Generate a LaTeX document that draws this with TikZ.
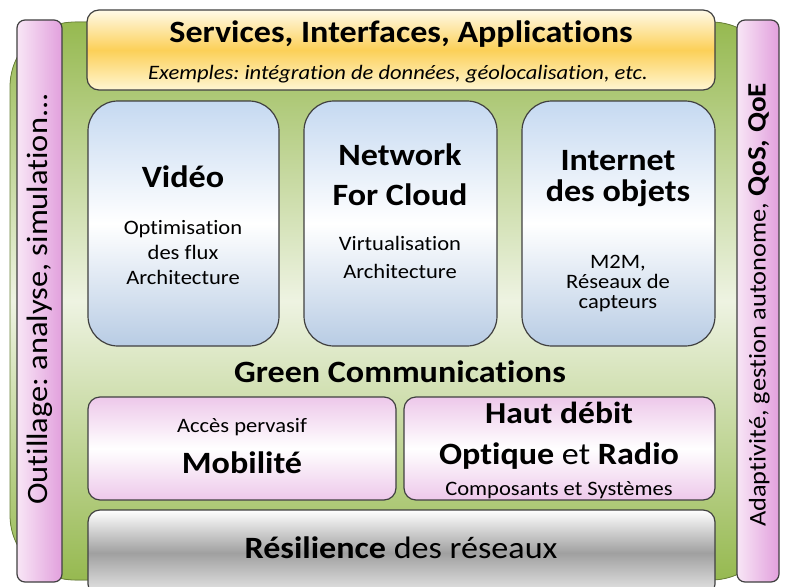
\documentclass[tikz,border=0pt]{standalone}
\usepackage{fontspec}
\setmainfont{Carlito}[FakeStretch=1.1, Ligatures=NoCommon]
\frenchspacing
\definecolor{edge}{RGB}{64,64,64}
\definecolor{greenA}{RGB}{150,185,80}
\definecolor{greenM}{RGB}{238,243,226}
\definecolor{blueA}{RGB}{197,217,241}
\definecolor{blueB}{RGB}{184,204,228}
\definecolor{goldA}{RGB}{255,250,232}
\definecolor{goldM}{RGB}{252,208,88}
\definecolor{goldB}{RGB}{255,246,210}
\definecolor{pinkA}{RGB}{237,200,234}
\definecolor{pinkB}{RGB}{226,160,221}
\definecolor{pinkL}{RGB}{248,230,246}
\definecolor{greyM}{RGB}{160,160,160}
\begin{document}
\begin{tikzpicture}[x=1pt, y=-1pt,
            box/.style={draw=edge, line width=1.2pt, rounded corners=12pt, inner sep=0},
            topbox/.style={box, top color=goldA, bottom color=goldB, middle color=goldM},
            bluebox/.style={box, rounded corners=30pt, top color=blueA, bottom color=blueB, middle color=white},
            pinkbox/.style={box, top color=pinkA, bottom color=pinkA, middle color=white},
            greybox/.style={box, top color=white, bottom color=white!92!black, middle color=greyM},
            sidebar/.style={box, rounded corners=8pt, left color=pinkL, right color=pinkB},
            big/.style={font=\fontsize{31}{33}\selectfont\bfseries},
            small/.style={font=\fontsize{20.5}{25}\selectfont, align=center},
        ]
        \useasboundingbox (0,0) rectangle (786,586);
        % green background
        \fill[draw=greenA!70!black, line width=.8pt, rounded corners=65pt, top color=greenA, bottom color=greenA, middle color=greenM]
            (10,22) rectangle (776,580);
        % side bars
        \node[sidebar, minimum width=45pt, minimum height=562pt] (tools) at (39.5,301) {};
        \node[rotate=90, font=\fontsize{29.5}{31}\selectfont] (toolsT) at (40,299) {Outillage: analyse, simulation...};
        \node[sidebar, minimum width=42pt, minimum height=562pt] (qos) at (758,301) {};
        \node[rotate=90, font=\fontsize{24}{26}\selectfont] (qosT) at (759,305)
            {Adaptivité, gestion autonome, {\fontsize{26.5}{28}\selectfont\bfseries QoS, QoE}};
        % services
        \node[topbox, minimum width=628pt, minimum height=80pt] (serv) at (401,50) {};
        \node[big] (servT) at (401,34) {Services, Interfaces, Applications};
        \node[font=\fontsize{20.5}{22}\selectfont\itshape] (servS) at (398,74) {Exemples: intégration de données, géolocalisation, etc.};
        % three blue boxes
        \node[bluebox, minimum width=191pt, minimum height=245pt] (video) at (183.5,223.5) {};
        \node[big] (videoT) at (183,177) {Vidéo};
        \node[small] (videoS) at (183,253) {Optimisation\\des flux\\Architecture};
        \node[bluebox, minimum width=193pt, minimum height=245pt] (cloud) at (400.5,223.5) {};
        \node[big, align=center, font=\fontsize{31}{40}\selectfont\bfseries] (cloudT) at (400,175) {Network\\For Cloud};
        \node[small, font=\fontsize{20.5}{28}\selectfont] (cloudS) at (400,257) {Virtualisation\\Architecture};
        \node[bluebox, minimum width=193pt, minimum height=245pt] (iot) at (618.5,223.5) {};
        \node[big, align=center, font=\fontsize{31}{31}\selectfont\bfseries] (iotT) at (618,179) {Internet\\des objets};
        \node[small, font=\fontsize{20.5}{20}\selectfont] (iotS) at (618,283) {M2M,\\Réseaux de\\capteurs};
        % green communications
        \node[big] (green) at (400,372) {Green Communications};
        % pink boxes
        \node[pinkbox, minimum width=308pt, minimum height=103pt] (mob) at (242,448.5) {};
        \node[font=\fontsize{20.5}{22}\selectfont] (mobS) at (242,427) {Accès pervasif};
        \node[big] (mobT) at (242,463) {Mobilité};
        \node[pinkbox, minimum width=311pt, minimum height=103pt] (haut) at (559.5,448.5) {};
        \node[big, font=\fontsize{30.5}{32}\selectfont\bfseries] (hautT) at (559,413) {Haut débit};
        \node[font=\fontsize{31}{33}\selectfont] (hautO) at (559,456) {\textbf{Optique} et \textbf{Radio}};
        \node[font=\fontsize{20.5}{22}\selectfont] (hautS) at (559,490) {Composants et Systèmes};
        % resilience
        \node[greybox, minimum width=627pt, minimum height=86pt] (res) at (401.5,553) {};
        \node[font=\fontsize{31}{33}\selectfont] (resT) at (401,548) {\textbf{Résilience} des réseaux};
    \end{tikzpicture}
\end{document}
